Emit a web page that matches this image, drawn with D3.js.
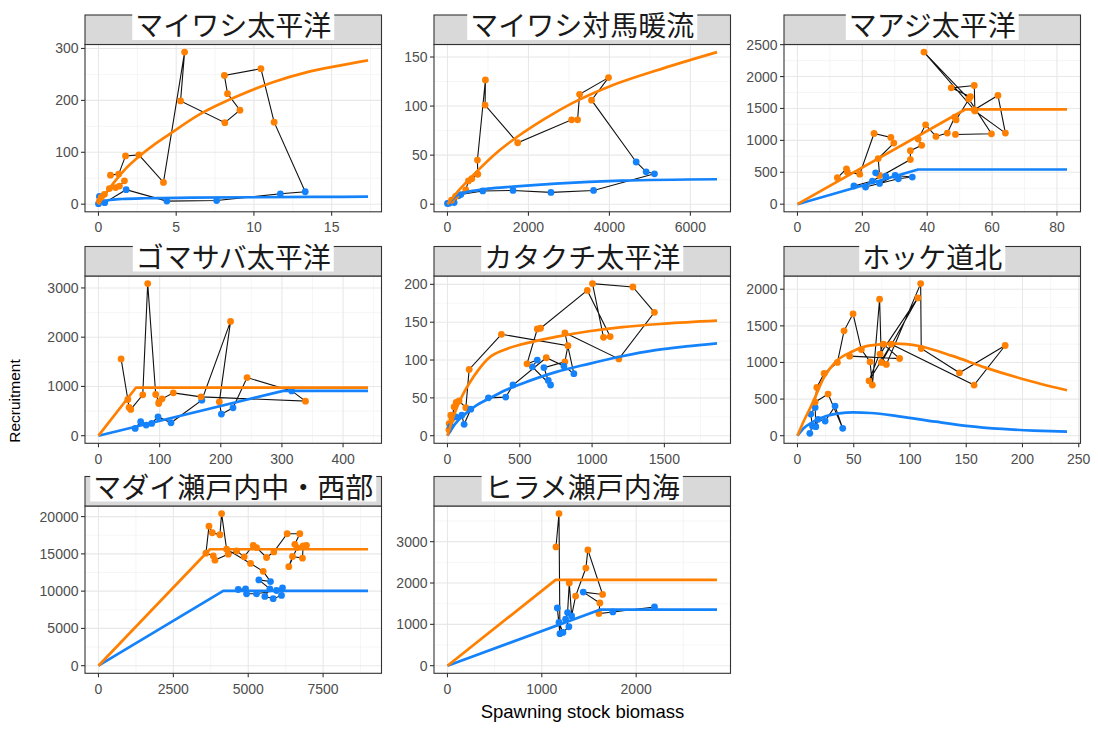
<!DOCTYPE html>
<html>
<head>
<meta charset="utf-8">
<script src="https://cdn.jsdelivr.net/npm/d3@7"></script>
<style>
  body { margin: 0; background: #fff; }
  svg { display: block; }
</style>
</head>
<body>
<svg id="chart" width="1098" height="730"></svg>
<script>
// ---- stocks (facet order) and fitted stock–recruitment model type ----
const stocks = ["マイワシ太平洋", "マイワシ対馬暖流", "マアジ太平洋",
                "ゴマサバ太平洋", "カタクチ太平洋", "ホッケ道北",
                "マダイ瀬戸内中・西部", "ヒラメ瀬戸内海"];
const models = ["BH", "BH", "HS", "HS", "BH", "RI", "HS", "HS"];

// ---- observations in year order: SSB, recruitment, regime (H = high, L = low) ----
const ssb1 = [0.77,1.3,1.74,2.6,4.18,5.54,5.28,8.13,9.1,8.3,8.1,10.45,11.3,13.3,11.7,7.6,4.4,1.78,0.4,0.06,0,0.06,0.17,0.38,0.7,1.1,1.35,1.67];
const rec1 = [56,58,93,95,42,293,199,157,181,213,248,261,158,24,20,7,6,28,3,15,1,6,13,19,30,32,35,45];
const reg1 = "HHHHHHHHHHHHHLLLLLLLLHHHHHHH";

const ssb2 = [0,41,164,271,329,871,1619,2556,3609,5113,4907,4661,3559,3978,3263,3214,3066,1734,929,937,740,748,600,518,452,200,100];
const rec2 = [0.7,1,1.7,8.5,9.8,13.5,14,12,14,31,33,43,106,129,112,86,86,62.6,101,126.6,45,30.5,26,23.7,14.6,8,4];
const reg2 = "LLLLLLLLLLLLHHHHHHHHHHHHHHH";

const ssb3 = [12.3,15.1,15.4,19.2,23.6,28.8,29.7,24.9,25.3,24.1,27.2,25.3,30.1,35.4,31.1,21,17.4,23.1,34.8,34.8,38.3,37.2,39.5,42.7,46.2,48.5,48.9,53.3,47.4,54.5,54.7,64.1,61.8,54.5,39,52.8,59.8,48.7];
const rec3 = [414,554,502,471,1108,1046,958,715,450,492,440,326,450,425,399,269,285,363,699,839,922,1020,1243,1062,1114,1362,1320,1684,1823,1860,1461,1114,1704,1480,2383,1650,1103,1093];
const reg3 = "HHHHHHHHHLLLLLLLLLHHHHHHHHHHHHHHHHHHHH";

const ssb4 = [60,69,78,87,97.4,118.6,169,216,197.6,201,220,243,316,338.5,167.6,122.4,104,98.5,99,93.6,80.5,72.4,52.8,50,48,37];
const rec4 = [148,283,216,250,384,263,722,2320,688,438,566,1180,910,701,789,870,748,654,688,836,3088,829,533,573,735,1558];
const reg4 = "LLLLLLLHHLLHLHHHHHHHHHHHHH";

const ssb5 = [10,11.5,23,30,46,60,80,127,150,373,833,812,667,697,713,587,621,550,621,644,967,1125,1079,1003,1282,1431,1185,812,874,805,683,453,403,283,161,115,99,57.5,20];
const rec5 = [8,16,27,22,38,44,46,37,87.5,134,119,97.6,90,73,67,91,100,95,141,142,192,131,130,201,196.5,163,101.5,136,82,92,103,67,51,50,35,15,27,25,12];
const reg5 = "HHHHHHHHHHHHLLLLLHHHHHHHHHHHLLHLLLLLLLL";

const ssb6 = [11,13.3,11.8,15.7,16.3,18.3,24.6,33.4,40.2,27.2,15.7,17.2,23.7,35.5,41.4,49.4,56.8,64.5,66.6,73,74.6,107,73.4,79,109.5,110,144,184.6,157,83.4,63.6,76.3,90.8,46.4];
const rec6 = [32,132,295,386,123,223,200,404,100,568,459,659,850,1000,1432,1664,1177,1009,691,1864,1000,1882,1114,973,2077,1191,859,1232,691,1250,750,1250,1054,1086];
const reg6 = "LLLLLLLLLHHHHHHHHHHHHHHHHHHHHHHHHH";

const ssb7 = [6944,6833,6811,6478,6355,6633,6555,6722,6300,5855,5611,5277,5166,4866,4611,4333,3889,3833,3589,3689,3800,4055,4111,4278,5078,5500,5744,5355,5722,5555,5833,6111,6144,5944,5277,4944,4911,4666];
const rec7 = [16151,16062,14426,14647,13275,15841,16284,17700,17700,15266,14514,15841,16151,14602,15400,14956,14160,14735,15089,18718,17833,17567,20400,15620,13717,12655,11284,11505,10310,9292,8983,9425,10443,10089,9646,9646,10310,10222];
const reg7 = "HHHHHHHHHHHHHHHHHHHHHHHHHHLLLLLLLLLLLL";

const ssb8 = [1150,1182,1192,1164,1182,1224,1287,1252,1273,1291,1316,1358,1467,1488,1644,1439,1615,1605,1753,2194];
const rec8 = [2873,3679,774,1396,1045,806,942,1125,1285,2003,1205,1684,2362,2801,1724,1780,1516,1261,1300,1420];
const reg8 = "HHLLLLLLLHLHHHHLHHLL";

// ---- fitted curves: high regime (orange) and low regime (blue) ----
const fitHx1 = [0,0.5,1,1.8,2.64,3.5,4.57,6.5,9.08,11.22,13.37,15.5,17.34];
const fitHy1 = [0,22,42,70,93,113,135,173,210,235,254,267,277];
const fitLx1 = [0,0.3,0.7,1.5,3,6,10,14,17.34];
const fitLy1 = [0,5,8,10,11.5,12.5,13.4,14,14.5];

const fitHx2 = [0,300,740,1200,1734,2400,3082,4000,5137,6658];
const fitHy2 = [0,15,34,52,69,87,103,120,136,155];
const fitLx2 = [0,100,205,400,616,1000,1619,2671,4315,6658];
const fitLy2 = [0,4,8.5,11.5,13.5,15.8,18,21,24,25.4];

const fitHx3 = [0,51.8,83.1];
const fitHy3 = [0,1487,1487];
const fitLx3 = [0,37.2,83.1];
const fitLy3 = [0,544,544];

const fitHx4 = [0,61.5,440.8];
const fitHy4 = [0,978,978];
const fitLx4 = [0,302,440.8];
const fitLy4 = [0,910,910];

const fitHx5 = [0,50,100,150,218,288,400,518,748,978,1208,1500,1864];
const fitHy5 = [0,30,52,69,88,103,114,121,130.5,138,143.5,148,152];
const fitLx5 = [0,50,127,200,288,400,518,748,978,1208,1438,1650,1864];
const fitLy5 = [0,15,29.5,40,49,60,69,84,95,105,113,118,122];

const fitHx6 = [0,5,13.3,23.7,34,48.8,63.6,87,108,137.6,167,200,239.6];
const fitHy6 = [0,180,441,800,1010,1150,1230,1258,1225,1090,930,775,620];
const fitLx6 = [0,5,13.3,25,37,49.4,65,90,122.8,150,182,210,239.6];
const fitLy6 = [0,95,185,265,305,318,310,265,191,135,92,70,55];

const fitHx7 = [0,3722,9000];
const fitHy7 = [0,15620,15620];
const fitLx7 = [0,4166,9000];
const fitLy7 = [0,10044,10044];

const fitHx8 = [0,1146,2857];
const fitHy8 = [0,2075,2075];
const fitLx8 = [0,1622,2857];
const fitLy8 = [0,1357,1357];

// ---- axis breaks ----
const xTicks = [[0,5,10,15],[0,2000,4000,6000],[0,20,40,60,80],
                [0,100,200,300,400],[0,500,1000,1500],[0,50,100,150,200,250],
                [0,2500,5000,7500],[0,1000,2000]];
const yTicks = [[0,100,200,300],[0,50,100,150],[0,500,1000,1500,2000,2500],
                [0,1000,2000,3000],[0,50,100,150,200],[0,500,1000,1500,2000],
                [0,5000,10000,15000,20000],[0,1000,2000,3000]];

const xTitle = "Spawning stock biomass";
const yTitle = "Recruitment";

// ---- assemble per-stock records ----
const ssbAll = [ssb1,ssb2,ssb3,ssb4,ssb5,ssb6,ssb7,ssb8];
const recAll = [rec1,rec2,rec3,rec4,rec5,rec6,rec7,rec8];
const regAll = [reg1,reg2,reg3,reg4,reg5,reg6,reg7,reg8];
const fitH = [[fitHx1,fitHy1],[fitHx2,fitHy2],[fitHx3,fitHy3],[fitHx4,fitHy4],
              [fitHx5,fitHy5],[fitHx6,fitHy6],[fitHx7,fitHy7],[fitHx8,fitHy8]];
const fitL = [[fitLx1,fitLy1],[fitLx2,fitLy2],[fitLx3,fitLy3],[fitLx4,fitLy4],
              [fitLx5,fitLy5],[fitLx6,fitLy6],[fitLx7,fitLy7],[fitLx8,fitLy8]];

const zip = (xs, ys) => xs.map((x, i) => ({x, y: ys[i]}));

const panels = stocks.map((name, i) => ({
  name,
  model: models[i],
  obs: ssbAll[i].map((s, k) => ({x: s, y: recAll[i][k], reg: regAll[i][k]})),
  hi: zip(fitH[i][0], fitH[i][1]),
  lo: zip(fitL[i][0], fitL[i][1]),
  xt: xTicks[i],
  yt: yTicks[i]
}));

// ---- layout & style ----
const colLeft = [85, 434, 784];
const panelW = 296.5;
const stripTop = [15, 246.5, 476.5];
const stripH = 29.5;
const panelH = 167.3;
const colour = {H: "#ff8000", L: "#1482fa"};
const axisFont = "'Liberation Sans', Arial, Helvetica, sans-serif";
const cjkFont = "'Noto Sans CJK JP', 'Noto Sans', sans-serif";

const svg = d3.select("#chart");

function expanded(vals) {
  const [a, b] = d3.extent(vals);
  const pad = (b - a) * 0.05;
  return [a - pad, b + pad];
}

function minorBreaks(major, dom) {
  const step = major[1] - major[0];
  const out = [];
  for (let v = major[0] - step / 2; v <= dom[1]; v += step) {
    if (v >= dom[0]) out.push(v);
  }
  return out;
}

panels.forEach((p, i) => {
  const row = Math.floor(i / 3), col = i % 3;
  const x0 = colLeft[col];
  const sTop = stripTop[row];
  const top = sTop + stripH;
  const bottom = top + panelH;

  const allX = p.obs.map(d => d.x).concat(p.hi.map(d => d.x), p.lo.map(d => d.x));
  const allY = p.obs.map(d => d.y).concat(p.hi.map(d => d.y), p.lo.map(d => d.y));
  const xDom = expanded(allX), yDom = expanded(allY);

  const x = d3.scaleLinear().domain(xDom).range([x0, x0 + panelW]);
  const y = d3.scaleLinear().domain(yDom).range([bottom, top]);

  const g = svg.append("g");

  // panel background
  g.append("rect").attr("x", x0).attr("y", top).attr("width", panelW).attr("height", panelH)
    .attr("fill", "#fff");

  // minor grid
  const gx = minorBreaks(p.xt, xDom), gy = minorBreaks(p.yt, yDom);
  g.selectAll(null).data(gx).join("line")
    .attr("x1", d => x(d)).attr("x2", d => x(d)).attr("y1", top).attr("y2", bottom)
    .attr("stroke", "#f0f0f0").attr("stroke-width", 0.6);
  g.selectAll(null).data(gy).join("line")
    .attr("y1", d => y(d)).attr("y2", d => y(d)).attr("x1", x0).attr("x2", x0 + panelW)
    .attr("stroke", "#f0f0f0").attr("stroke-width", 0.6);
  // major grid
  g.selectAll(null).data(p.xt).join("line")
    .attr("x1", d => x(d)).attr("x2", d => x(d)).attr("y1", top).attr("y2", bottom)
    .attr("stroke", "#e8e8e8").attr("stroke-width", 1.1);
  g.selectAll(null).data(p.yt).join("line")
    .attr("y1", d => y(d)).attr("y2", d => y(d)).attr("x1", x0).attr("x2", x0 + panelW)
    .attr("stroke", "#e8e8e8").attr("stroke-width", 1.1);

  // observed trajectory
  g.append("path").datum(p.obs)
    .attr("d", d3.line().x(d => x(d.x)).y(d => y(d.y)))
    .attr("fill", "none").attr("stroke", "#111").attr("stroke-width", 1.1);

  // observed points
  g.selectAll(null).data(p.obs).join("circle")
    .attr("cx", d => x(d.x)).attr("cy", d => y(d.y)).attr("r", 3.4)
    .attr("fill", d => colour[d.reg]);

  // fitted curves
  const curve = p.model === "HS" ? d3.curveLinear : d3.curveMonotoneX;
  const fitLine = d3.line().x(d => x(d.x)).y(d => y(d.y)).curve(curve);
  g.append("path").datum(p.lo).attr("d", fitLine)
    .attr("fill", "none").attr("stroke", colour.L).attr("stroke-width", 2.7)
    .attr("stroke-linejoin", "round");
  g.append("path").datum(p.hi).attr("d", fitLine)
    .attr("fill", "none").attr("stroke", colour.H).attr("stroke-width", 2.7)
    .attr("stroke-linejoin", "round");

  // panel border
  g.append("rect").attr("x", x0).attr("y", top).attr("width", panelW).attr("height", panelH)
    .attr("fill", "none").attr("stroke", "#333").attr("stroke-width", 1.1);

  // axes: ticks and labels
  g.selectAll(null).data(p.xt).join("line")
    .attr("x1", d => x(d)).attr("x2", d => x(d)).attr("y1", bottom).attr("y2", bottom + 4)
    .attr("stroke", "#333").attr("stroke-width", 1.1);
  g.selectAll(null).data(p.xt).join("text")
    .attr("x", d => x(d)).attr("y", bottom + 20.5)
    .attr("text-anchor", "middle").attr("font-family", axisFont).attr("font-size", 14)
    .attr("fill", "#4d4d4d").text(d => d);
  g.selectAll(null).data(p.yt).join("line")
    .attr("y1", d => y(d)).attr("y2", d => y(d)).attr("x1", x0 - 4).attr("x2", x0)
    .attr("stroke", "#333").attr("stroke-width", 1.1);
  g.selectAll(null).data(p.yt).join("text")
    .attr("x", x0 - 6.5).attr("y", d => y(d) + 5)
    .attr("text-anchor", "end").attr("font-family", axisFont).attr("font-size", 14)
    .attr("fill", "#4d4d4d").text(d => d);

  // facet strip with boxed title
  g.append("rect").attr("x", x0).attr("y", sTop).attr("width", panelW).attr("height", stripH)
    .attr("fill", "#d9d9d9").attr("stroke", "#333").attr("stroke-width", 1.1);
  const labelBox = g.append("rect").attr("fill", "#fff");
  const label = g.append("text")
    .attr("x", x0 + panelW / 2).attr("y", sTop + 9)
    .attr("text-anchor", "middle").attr("dominant-baseline", "central")
    .attr("font-family", cjkFont).attr("font-size", 28).attr("fill", "#1a1a1a")
    .text(p.name);
  const tw = label.node().getComputedTextLength();
  labelBox.attr("x", x0 + panelW / 2 - tw / 2 - 3).attr("y", sTop - 7)
    .attr("width", tw + 6).attr("height", 32);
});

// axis titles
svg.append("text")
  .attr("x", 582.5).attr("y", 718)
  .attr("text-anchor", "middle").attr("font-family", axisFont).attr("font-size", 18.5)
  .attr("fill", "#000").text(xTitle);
svg.append("text")
  .attr("transform", "translate(20,401) rotate(-90)")
  .attr("text-anchor", "middle").attr("font-family", axisFont).attr("font-size", 15.5)
  .attr("fill", "#000").text(yTitle);
</script>
</body>
</html>
